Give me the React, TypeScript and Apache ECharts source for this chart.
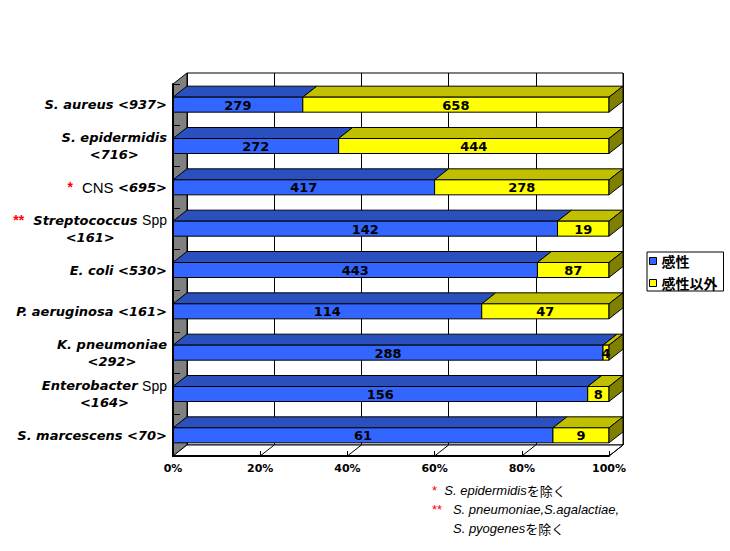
import React, { useEffect, useRef } from "react";
import * as echarts from "echarts";

const categories = [
  "S. aureus",
  "S. epidermidis",
  "CNS",
  "Streptococcus",
  "E. coli",
  "P. aeruginosa",
  "K. pneumoniae",
  "Enterobacter",
  "S. marcescens",
];
const sensitive = [279, 272, 417, 142, 443, 114, 288, 156, 61];
const other = [658, 444, 278, 19, 87, 47, 4, 8, 9];
const markers = ["", "", "*", "**", "", "", "", "", ""];
const suffixes = ["", "", "", "Spp", "", "", "", "Spp", ""];
const italicNames = [true, true, false, true, true, true, true, true, true];
const wrapped = [false, true, false, true, false, false, true, true, false];
const legendNames = ["感性", "感性以外"];
const footnotes = [
  { mark: "*", latin: "S. epidermidis", jp: "を除く" },
  { mark: "**", latin: "S. pneumoniae,S.agalactiae,", jp: "" },
  { mark: "", latin: "S. pyogenes", jp: "を除く" },
];

const FF = "'Liberation Sans', Arial, 'Noto Sans CJK JP', sans-serif";
const DF = "'DejaVu Sans', 'Liberation Sans', sans-serif";
const JF = "'Noto Sans CJK JP', 'Liberation Sans', sans-serif";

// geometry of the pseudo-3D frame
const FL = 173; // front grid left
const FT = 84; // front grid top
const W = 436;
const H = 372;
const DX = 14;
const DY = 11;
const BAR_H = 15;

const colors = {
  blueFront: "#3366FF",
  blueTop: "#2A50BE",
  yellowFront: "#FFFF00",
  yellowTop: "#C0C000",
  side: "#808000",
  wall: "#808080",
};

function measure(text: string, font: string) {
  const c = document.createElement("canvas").getContext("2d")!;
  c.font = font;
  return c.measureText(text).width;
}

export default function App() {
  const ref = useRef<HTMLDivElement>(null);
  useEffect(() => {
    if (!ref.current) return;
    const chart = echarts.init(ref.current, undefined, { renderer: "svg" });

    const totals = sensitive.map((v, i) => v + other[i]);
    const sensData = sensitive.map((v, i) => [0, (v / totals[i]) * 100, i, v]);
    const otherData = other.map((v, i) => [(sensitive[i] / totals[i]) * 100, 100, i, v]);

    const itFont = `italic bold 13px ${DF}`;
    const rgFont = `15px ${FF}`;
    const spFont = `14px ${FF}`;

    const rich: any = {
      red: { color: "#FF0000", fontSize: 14, fontWeight: "bold", fontFamily: FF, lineHeight: 17 },
      it: { fontStyle: "italic", fontWeight: "bold", fontSize: 13, fontFamily: DF, color: "#000", lineHeight: 17 },
      rg: { fontSize: 15, fontFamily: FF, color: "#000", lineHeight: 17 },
      sp: { fontSize: 14, fontFamily: FF, color: "#000", lineHeight: 17 },
    };
    categories.forEach((name, i) => {
      if (!wrapped[i]) return;
      let w = measure(name, italicNames[i] ? itFont : rgFont);
      if (suffixes[i]) w += measure(" ", itFont) + measure(suffixes[i], spFont);
      rich["c" + i] = {
        fontStyle: "italic",
        fontWeight: "bold",
        fontSize: 13,
        fontFamily: DF,
        color: "#000",
        lineHeight: 17,
        width: w,
        align: "center",
      };
    });

    const labelFormatter = (value: string) => {
      const i = categories.indexOf(value);
      let s = "";
      if (markers[i]) s += `{red|${markers[i]}}{it|  }`;
      s += italicNames[i] ? `{it|${value}}` : `{rg|${value}}`;
      if (suffixes[i]) s += `{it| }{sp|${suffixes[i]}}`;
      const cnt = `<${totals[i]}>`;
      if (wrapped[i]) s += `\n{c${i}|${cnt}}`;
      else s += `{it| ${cnt}}`;
      return s;
    };

    const makeRender = (front: string, top: string, withSide: boolean) =>
      (params: any, api: any) => {
        const start = api.value(0);
        const end = api.value(1);
        const cat = api.value(2);
        const p0 = api.coord([start, cat]);
        const p1 = api.coord([end, cat]);
        const x0 = p0[0];
        const x1 = p1[0];
        const yTop = p0[1] - BAR_H / 2;
        const yBot = yTop + BAR_H;
        const children: any[] = [
          {
            type: "polygon",
            shape: { points: [[x0, yTop], [x1, yTop], [x1 + DX, yTop - DY], [x0 + DX, yTop - DY]] },
            style: { fill: top, stroke: "#000", lineWidth: 1 },
          },
          {
            type: "rect",
            shape: { x: x0, y: yTop, width: x1 - x0, height: BAR_H },
            style: { fill: front, stroke: "#000", lineWidth: 1 },
          },
        ];
        if (withSide) {
          children.push({
            type: "polygon",
            shape: { points: [[x1, yTop], [x1 + DX, yTop - DY], [x1 + DX, yBot - DY], [x1, yBot]] },
            style: { fill: colors.side, stroke: "#000", lineWidth: 1 },
          });
        }
        children.push({
          type: "text",
          style: {
            text: String(api.value(3)),
            x: (x0 + x1) / 2,
            y: p0[1] + 0.5,
            align: "center",
            verticalAlign: "middle",
            fill: "#000",
            font: `bold 13px ${DF}`,
          },
        });
        return { type: "group", children };
      };

    const graphics: any[] = [
      {
        type: "polygon",
        z: 1,
        shape: { points: [[FL, FT], [FL + DX, FT - DY], [FL + DX, FT + H - DY], [FL, FT + H]] },
        style: { fill: colors.wall, stroke: "#000", lineWidth: 1 },
      },
      {
        type: "polygon",
        z: 1,
        shape: { points: [[FL, FT + H], [FL + DX, FT + H - DY], [FL + W + DX, FT + H - DY], [FL + W, FT + H]] },
        style: { fill: "#fff", stroke: "#000", lineWidth: 1 },
      },
    ];
    [20, 40, 60, 80, 100].forEach((p) => {
      const x = FL + (W * p) / 100;
      graphics.push({
        type: "line",
        z: 1,
        shape: { x1: x, y1: FT + H, x2: x + DX, y2: FT + H - DY },
        style: { stroke: "#000", lineWidth: 1 },
      });
    });
    const fy = [490, 509, 528];
    const fx = [432, 432, 453];
    footnotes.forEach((f, i) => {
      let t = "";
      if (f.mark) t += `{r|${f.mark}}{i|${i === 0 ? "  " : "   "}}`;
      t += `{i|${f.latin}}`;
      if (f.jp) t += `{j|${f.jp}}`;
      graphics.push({
        type: "text",
        z: 10,
        x: fx[i],
        y: fy[i],
        style: {
          text: t,
          verticalAlign: "middle",
          rich: {
            r: { fill: "#FF0000", fontSize: 13, fontFamily: FF },
            i: { fill: "#000", fontSize: 13, fontStyle: "italic", fontFamily: FF },
            j: { fill: "#000", fontSize: 13, fontFamily: JF },
          },
        },
      });
    });

    chart.setOption({
      animation: false,
      backgroundColor: "#fff",
      grid: [
        { left: FL, top: FT, width: W, height: H, show: false, containLabel: false },
        {
          left: FL + DX,
          top: FT - DY,
          width: W,
          height: H,
          show: true,
          backgroundColor: "#fff",
          borderColor: "#000",
          borderWidth: 1,
          containLabel: false,
        },
      ],
      xAxis: [
        {
          type: "value",
          gridIndex: 0,
          min: 0,
          max: 100,
          interval: 20,
          z: 6,
          axisLine: { show: true, lineStyle: { color: "#000", width: 2 } },
          axisTick: { show: true, inside: true, length: 5, lineStyle: { color: "#000" } },
          splitLine: { show: false },
          axisLabel: {
            formatter: "{value}%",
            color: "#000",
            fontWeight: "bold",
            fontSize: 11,
            fontFamily: DF,
            margin: 7,
          },
        },
        {
          type: "value",
          gridIndex: 1,
          min: 0,
          max: 100,
          interval: 20,
          z: 0,
          axisLine: { show: false },
          axisTick: { show: false },
          axisLabel: { show: false },
          splitLine: { show: true, lineStyle: { color: "#000", width: 1 } },
        },
      ],
      yAxis: [
        {
          type: "category",
          gridIndex: 0,
          data: categories,
          inverse: true,
          z: 6,
          axisLine: { show: true, lineStyle: { color: "#000", width: 2 } },
          axisTick: { show: true, inside: true, length: 7, lineStyle: { color: "#000" } },
          axisLabel: {
            formatter: labelFormatter,
            rich,
            margin: 6,
            color: "#000",
          },
        },
        {
          type: "category",
          gridIndex: 1,
          data: categories,
          inverse: true,
          show: false,
        },
      ],
      legend: {
        orient: "vertical",
        left: 647,
        top: 252,
        borderColor: "#000",
        borderWidth: 1,
        borderRadius: 0,
        padding: [2, 6, 1, 2],
        itemGap: 8,
        itemWidth: 7,
        itemHeight: 7,
        itemTextGap: 3,
        itemStyle: { borderColor: "#000", borderWidth: 1 },
        textStyle: { color: "#000", fontSize: 14, lineHeight: 14, fontWeight: "bold", fontFamily: JF },
        data: [
          { name: legendNames[0], icon: "rect" },
          { name: legendNames[1], icon: "rect" },
        ],
      },
      graphic: graphics,
      series: [
        {
          type: "custom",
          name: legendNames[0],
          xAxisIndex: 0,
          yAxisIndex: 0,
          z: 5,
          clip: false,
          itemStyle: { color: colors.blueFront },
          encode: { x: [0, 1], y: 2 },
          data: sensData,
          renderItem: makeRender(colors.blueFront, colors.blueTop, false),
        },
        {
          type: "custom",
          name: legendNames[1],
          xAxisIndex: 0,
          yAxisIndex: 0,
          z: 5,
          clip: false,
          itemStyle: { color: colors.yellowFront },
          encode: { x: [0, 1], y: 2 },
          data: otherData,
          renderItem: makeRender(colors.yellowFront, colors.yellowTop, true),
        },
      ],
    });
    return () => chart.dispose();
  }, []);
  return (
    <div
      ref={ref}
      style={{ position: "fixed", left: 0, top: 0, width: 730, height: 551, background: "#fff" }}
    />
  );
}
